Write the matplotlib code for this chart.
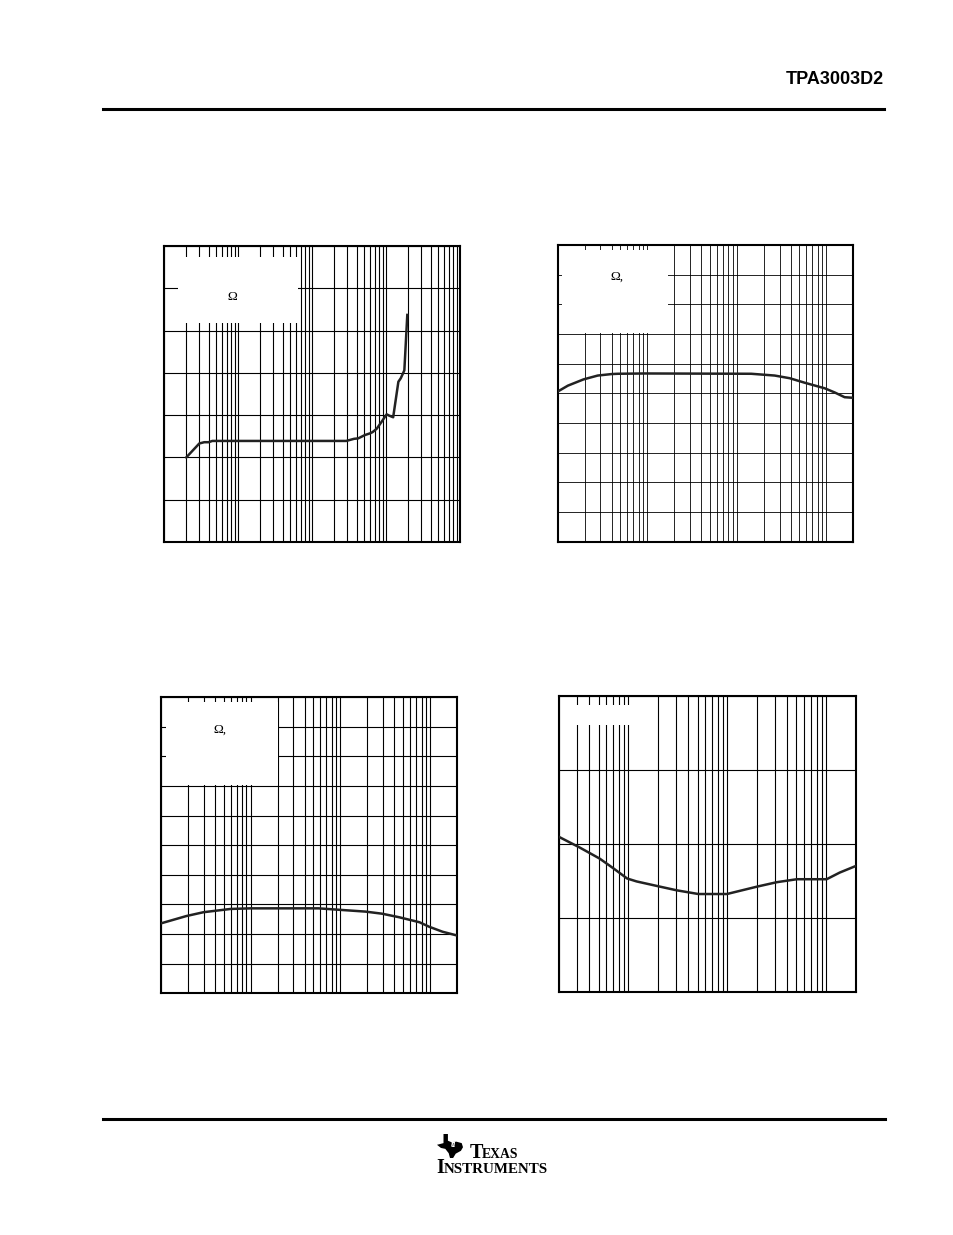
import matplotlib
matplotlib.use("Agg")
import matplotlib.pyplot as plt
from matplotlib.patches import Rectangle, Polygon
from matplotlib.ticker import LogLocator, MultipleLocator, NullFormatter
import numpy as np

# page size in pixels
W, H = 954, 1235

# plot 1 (top left): 10 Hz .. 100 kHz, 7 divisions
p1_freq = [20, 30, 35, 40, 45, 2900, 3700, 4200, 5200, 6100, 6600, 7500,
           8700, 10200, 11000, 12500, 14700, 15800, 16800, 17700, 19400]
p1_vals = [2.0, 2.33, 2.36, 2.36, 2.39, 2.39, 2.44, 2.45, 2.53, 2.57, 2.60,
           2.68, 2.84, 3.02, 2.99, 2.95, 3.79, 3.87, 3.97, 4.06, 5.37]

# plot 2 (top right): 10 Hz .. 20 kHz, 10 divisions
p2_freq = [10, 13, 19.4, 28, 40, 47, 95, 1450, 2650, 3900, 5700, 9600, 12400, 16000, 20000]
p2_vals = [5.06, 5.26, 5.47, 5.60, 5.65, 5.66, 5.67, 5.66, 5.60, 5.51, 5.36, 5.17, 5.03, 4.87, 4.85]

# plot 3 (bottom left): 10 Hz .. 20 kHz, 10 divisions
p3_freq = [10, 19.3, 30, 60, 100, 570, 1900, 2900, 4500, 7600, 9700, 13700, 20000]
p3_vals = [2.36, 2.61, 2.74, 2.85, 2.87, 2.87, 2.76, 2.69, 2.57, 2.40, 2.25, 2.08, 1.95]

# plot 4 (bottom right): 20 Hz .. 20 kHz, 4 divisions
p4_freq = [20, 32, 51, 70, 97, 121, 208, 308, 510, 990, 2000, 3170, 5050, 10100, 13700, 20000]
p4_vals = [2.09, 1.95, 1.80, 1.67, 1.53, 1.49, 1.42, 1.37, 1.32, 1.32, 1.42, 1.48,
           1.52, 1.52, 1.61, 1.70]


def px_axes(fig, x0, y0, x1, y1):
    # pixel box (top-left origin) -> figure axes
    return fig.add_axes([x0 / W, 1 - y1 / H, (x1 - x0) / W, (y1 - y0) / H])


def setup(ax, xlim, ymax, glw=0.8):
    ax.set_xscale("log")
    ax.set_xlim(*xlim)
    ax.set_ylim(0, ymax)
    ax.xaxis.set_major_locator(LogLocator(base=10, numticks=12))
    ax.xaxis.set_minor_locator(LogLocator(base=10, subs=np.arange(2, 10), numticks=12))
    ax.xaxis.set_minor_formatter(NullFormatter())
    ax.yaxis.set_major_locator(MultipleLocator(1))
    ax.grid(which="both", color="black", lw=glw)
    ax.tick_params(which="both", length=0, labelbottom=False, labelleft=False)
    for s in ax.spines.values():
        s.set_linewidth(1.5)


def blank_box(ax, x0, y0, x1, y1, text=None, tx=0, ty=0):
    ax.add_patch(Rectangle((x0, y0), x1 - x0, y1 - y0, transform=ax.transAxes,
                           facecolor="white", edgecolor="none", zorder=2))
    if text:
        ax.text(tx, ty, text, transform=ax.transAxes, ha="center", va="center",
                fontsize=9.5, family="Liberation Serif", zorder=3)


fig = plt.figure(figsize=(W / 100, H / 100), dpi=100)

ax1 = px_axes(fig, 164, 246, 460, 542)
setup(ax1, (10, 1e5), 7)
blank_box(ax1, 0.047, 0.740, 0.453, 0.964, "Ω", 0.229, 0.829)
ax1.plot(p1_freq, p1_vals, color="#222222", lw=1.8, zorder=4)

ax2 = px_axes(fig, 557.7, 245, 853.3, 541.7)
setup(ax2, (10, 2e4), 10, glw=0.6)
blank_box(ax2, 0.0135, 0.703, 0.372, 0.983, "Ω,", 0.199, 0.893)
ax2.plot(p2_freq, p2_vals, color="#222222", lw=1.8, zorder=4)

ax3 = px_axes(fig, 160.7, 697.3, 457.3, 993.3)
setup(ax3, (10, 2e4), 10)
blank_box(ax3, 0.018, 0.704, 0.396, 0.985, "Ω,", 0.200, 0.890)
ax3.plot(p3_freq, p3_vals, color="#222222", lw=1.8, zorder=4)

ax4 = px_axes(fig, 559.3, 695.7, 856, 991.7)
setup(ax4, (20, 2e4), 4)
blank_box(ax4, 0.0125, 0.901, 0.244, 0.969)
ax4.plot(p4_freq, p4_vals, color="#222222", lw=1.8, zorder=4)

# page header / footer
fig.text(884 / W, 1 - 79 / H, "TPA3003D2", ha="right", va="center",
         fontsize=13, fontweight="bold", family="Liberation Sans")
fig.add_artist(plt.Line2D([103 / W, 884 / W], [1 - 109 / H, 1 - 109 / H],
                          color="black", lw=2.2))
fig.add_artist(plt.Line2D([103 / W, 885 / W], [1 - 1119 / H, 1 - 1119 / H],
                          color="black", lw=2.2))

# TI logo
shape = np.array([[0.25, 1.0], [0.42, 1.0], [0.42, 0.72], [0.55, 0.66], [0.75, 0.68],
                  [0.95, 0.62], [1.0, 0.45], [0.92, 0.30], [0.72, 0.18], [0.62, 0.0],
                  [0.5, 0.0], [0.45, 0.2], [0.32, 0.38], [0.15, 0.42], [0.0, 0.55],
                  [0.25, 0.62]])
lx0, ly0, lw_, lh_ = 437, 1158, 26, 24
pts = np.column_stack([(lx0 + shape[:, 0] * lw_) / W, 1 - (ly0 - shape[:, 1] * lh_) / H])
fig.add_artist(Polygon(pts, closed=True, facecolor="black", edgecolor="none",
                       transform=fig.transFigure))
fig.text((lx0 + 0.62 * lw_) / W, 1 - (ly0 - 0.55 * lh_) / H, "ti", color="white",
         fontsize=7, style="italic", fontweight="bold", family="Liberation Serif",
         ha="center", va="center")
fig.text(470 / W, 1 - 1158 / H, "T", fontsize=14.5, family="Liberation Serif",
         fontweight="bold", ha="left", va="baseline")
fig.text(481.5 / W, 1 - 1158 / H, "EXAS", fontsize=9.8, family="Liberation Serif",
         fontweight="bold", ha="left", va="baseline")
fig.text(436.5 / W, 1 - 1173 / H, "I", fontsize=14.5, family="Liberation Serif",
         fontweight="bold", ha="left", va="baseline")
fig.text(443.5 / W, 1 - 1173 / H, "NSTRUMENTS", fontsize=10.8, family="Liberation Serif",
         fontweight="bold", ha="left", va="baseline")

fig.savefig("out.png", dpi=100)
